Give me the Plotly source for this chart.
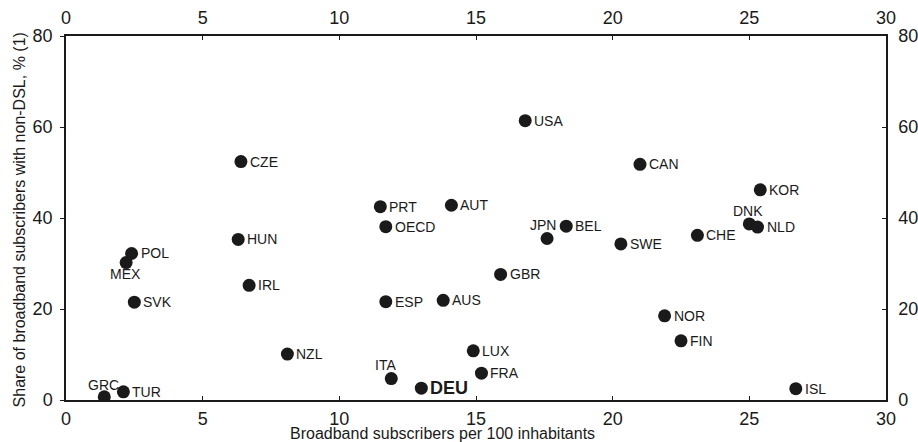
import plotly.graph_objects as go

# Broadband subscribers per 100 inhabitants vs share of non-DSL subscribers
countries = ["GRC", "TUR", "SVK", "MEX", "POL", "NZL", "HUN", "CZE", "IRL",
             "PRT", "OECD", "ESP", "ITA", "DEU", "AUS", "AUT", "LUX", "FRA",
             "GBR", "USA", "JPN", "BEL", "SWE", "CAN", "NOR", "FIN", "CHE",
             "DNK", "NLD", "KOR", "ISL"]
subscribers = [1.4, 2.1, 2.5, 2.2, 2.4, 8.1, 6.3, 6.4, 6.7,
               11.5, 11.7, 11.7, 11.9, 13.0, 13.8, 14.1, 14.9, 15.2,
               15.9, 16.8, 17.6, 18.3, 20.3, 21.0, 21.9, 22.5, 23.1,
               25.0, 25.3, 25.4, 26.7]
non_dsl_share = [0.7, 1.8, 21.5, 30.2, 32.2, 10.1, 35.3, 52.4, 25.2,
                 42.5, 38.1, 21.6, 4.7, 2.6, 21.9, 42.8, 10.8, 5.9,
                 27.6, 61.4, 35.5, 38.2, 34.3, 51.8, 18.5, 13.0, 36.2,
                 38.7, 38.0, 46.2, 2.5]

x_ticks = [0, 5, 10, 15, 20, 25, 30]
y_ticks = [0, 20, 40, 60, 80]

FONT = "Liberation Sans, Arial, sans-serif"
INK = "#1a1a1a"

# label placement: (xanchor, xshift, yshift); default is to the right of the dot
placement = {
    "MEX": ("center", -1, -11),
    "GRC": ("center", -1, 12),
    "ITA": ("center", -6, 14),
    "JPN": ("center", -4, 13),
    "DNK": ("center", -1, 13),
}

fig = go.Figure()
fig.add_trace(go.Scatter(
    x=subscribers, y=non_dsl_share, mode="markers",
    marker=dict(size=13, color=INK, line=dict(width=0)),
    text=countries, hoverinfo="text+x+y", showlegend=False,
))
# same points on the mirrored top/right axes so those axes render
fig.add_trace(go.Scatter(
    x=subscribers, y=non_dsl_share, mode="markers",
    xaxis="x2", yaxis="y2", marker=dict(size=1, opacity=0),
    hoverinfo="skip", showlegend=False,
))

annotations = []
for c, xv, yv in zip(countries, subscribers, non_dsl_share):
    xa, xs, ys = placement.get(c, ("left", 7, 0))
    bold = c == "DEU"
    annotations.append(dict(
        x=xv, y=yv, xref="x", yref="y", text=f"<b>{c}</b>" if bold else c,
        showarrow=False, xanchor=xa, yanchor="middle", xshift=xs, yshift=ys,
        font=dict(family=FONT, size=18 if bold else 14, color=INK),
    ))

annotations.append(dict(
    text="Broadband subscribers per 100 inhabitants", xref="paper", yref="paper",
    x=0.459, y=-0.093, xanchor="center", yanchor="middle", showarrow=False,
    font=dict(family=FONT, size=16, color=INK),
))
annotations.append(dict(
    text="Share of broadband subscribers with non-DSL, % (1)", xref="paper",
    yref="paper", x=-0.057, y=0.494, xanchor="center", yanchor="middle",
    textangle=-90, showarrow=False, font=dict(family=FONT, size=16, color=INK),
))

axis_common = dict(
    showgrid=False, zeroline=False, showline=True, linecolor=INK, linewidth=1.5,
    tickcolor=INK, ticklen=4, tickwidth=1, automargin=False,
    tickfont=dict(family=FONT, size=18, color=INK),
)

fig.update_layout(
    width=918, height=442,
    margin=dict(l=66, r=32, t=36, b=42, autoexpand=False),
    paper_bgcolor="white", plot_bgcolor="white",
    font=dict(family=FONT, color=INK),
    xaxis=dict(range=[0, 30], tickvals=x_ticks, ticks="inside", side="bottom",
               ticklabelstandoff=2, **axis_common),
    xaxis2=dict(range=[0, 30], tickvals=x_ticks, ticks="inside", side="top",
                overlaying="x", anchor="y2", ticklabelstandoff=3, **axis_common),
    yaxis=dict(range=[0, 80], tickvals=y_ticks, ticks="outside", side="left",
               ticklabelstandoff=4, **axis_common),
    yaxis2=dict(range=[0, 80], tickvals=y_ticks, ticks="inside", side="right",
                overlaying="y", anchor="x2", ticklabelstandoff=7, **axis_common),
    annotations=annotations,
)

fig.write_html("out.html")
